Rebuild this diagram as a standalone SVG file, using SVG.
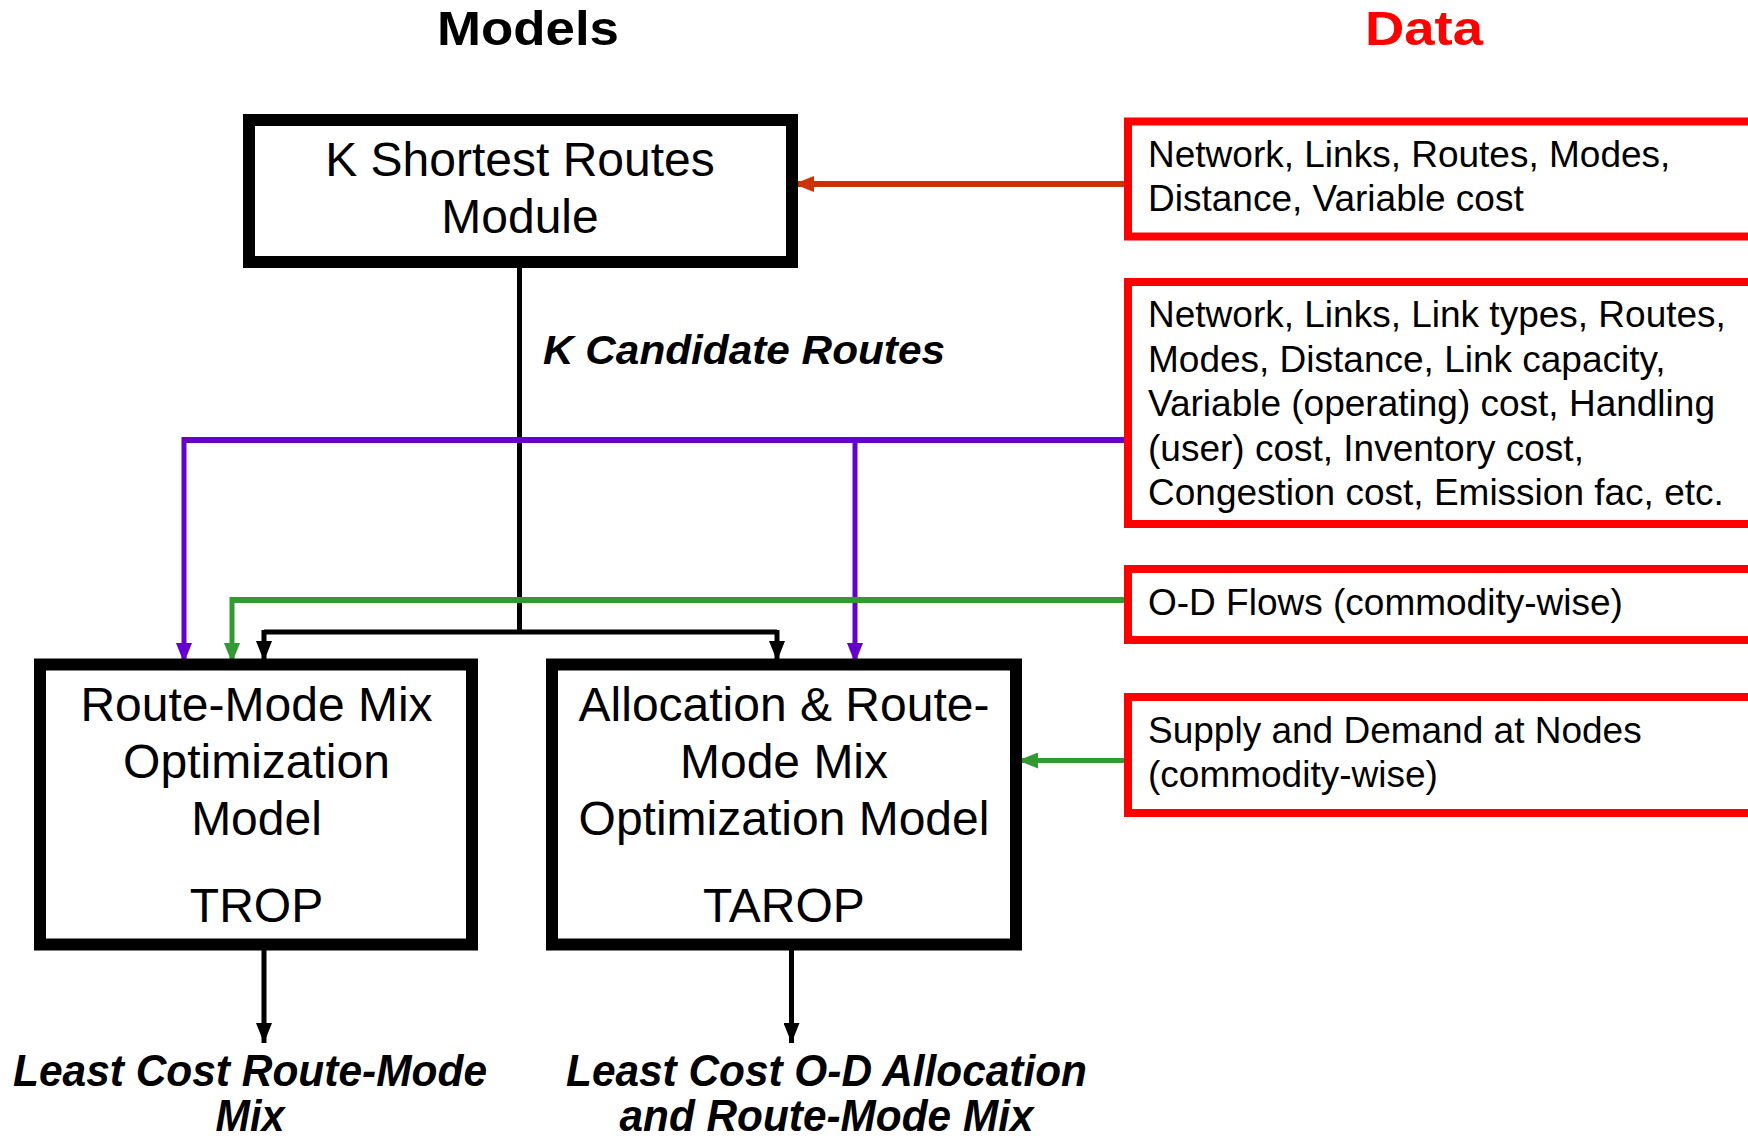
<svg xmlns="http://www.w3.org/2000/svg" width="1748" height="1142" viewBox="0 0 1748 1142">
<style>
.t{font-family:"Liberation Sans",Arial,sans-serif;fill:#000}
.model{font-size:48px;text-anchor:middle}
.data{font-size:37px}
.title{font-size:49px;font-weight:bold;text-anchor:middle}
.bi{font-size:44px;font-weight:bold;font-style:italic;text-anchor:middle}
.mbox{fill:#fff;stroke:#000;stroke-width:12}
.dbox{fill:#fff;stroke:#f00;stroke-width:8}
.blk{fill:none;stroke:#000;stroke-width:5}
.pur{fill:none;stroke:#6600cc;stroke-width:5}
.grn{fill:none;stroke:#339933;stroke-width:5}
.org{fill:none;stroke:#cc3300;stroke-width:6}
</style>
<defs>
<marker id="aBlk" markerUnits="userSpaceOnUse" markerWidth="20" markerHeight="16" refX="20" refY="8" orient="auto" viewBox="0 0 20 16"><path d="M0,0 L20,8 L0,16 Z" fill="#000"/></marker>
<marker id="aPur" markerUnits="userSpaceOnUse" markerWidth="20" markerHeight="16" refX="20" refY="8" orient="auto" viewBox="0 0 20 16"><path d="M0,0 L20,8 L0,16 Z" fill="#6600cc"/></marker>
<marker id="aGrn" markerUnits="userSpaceOnUse" markerWidth="20" markerHeight="16" refX="20" refY="8" orient="auto" viewBox="0 0 20 16"><path d="M0,0 L20,8 L0,16 Z" fill="#339933"/></marker>
<marker id="aOrg" markerUnits="userSpaceOnUse" markerWidth="20" markerHeight="16" refX="20" refY="8" orient="auto" viewBox="0 0 20 16"><path d="M0,0 L20,8 L0,16 Z" fill="#cc3300"/></marker>
</defs>
<rect width="1748" height="1142" fill="#fff"/>

<g id="titles">
<text class="t title" x="528" y="45" textLength="182" lengthAdjust="spacingAndGlyphs">Models</text>
<text class="t title" x="1424" y="45" textLength="118" lengthAdjust="spacingAndGlyphs" style="fill:#f00">Data</text>
</g>

<g id="connectors">
<path class="org" d="M1124,184 L794,184" marker-end="url(#aOrg)"/>
<path class="blk" d="M519.5,268 L519.5,632"/>
<path class="blk" d="M264,632 L777,632"/>
<path class="blk" d="M264,630 L264,661" marker-end="url(#aBlk)"/>
<path class="blk" d="M777,630 L777,661" marker-end="url(#aBlk)"/>
<path class="pur" d="M1126,440 L184,440" style="stroke-width:6"/>
<path class="pur" d="M184,437 L184,663" marker-end="url(#aPur)"/>
<path class="pur" d="M855,437 L855,663" marker-end="url(#aPur)"/>
<path class="grn" d="M1126,600 L232,600" style="stroke-width:6"/>
<path class="grn" d="M232,597 L232,663" marker-end="url(#aGrn)"/>
<path class="grn" d="M1124,760.5 L1018,760.5" marker-end="url(#aGrn)"/>
<path class="blk" d="M264,940 L264,1043" marker-end="url(#aBlk)"/>
<path class="blk" d="M791.5,940 L791.5,1043" marker-end="url(#aBlk)"/>
</g>

<g id="ksr">
<rect class="mbox" x="249" y="120" width="543" height="142"/>
<text class="t model" x="520" y="176">K Shortest Routes</text>
<text class="t model" x="520" y="233">Module</text>
</g>

<g id="cand-label">
<text class="t" x="543" y="364" style="font-size:41px;font-weight:bold;font-style:italic" textLength="402" lengthAdjust="spacingAndGlyphs">K Candidate Routes</text>
</g>

<g id="trop">
<rect class="mbox" x="40" y="664.5" width="432" height="280"/>
<text class="t model" x="256.5" y="721">Route-Mode Mix</text>
<text class="t model" x="256.5" y="778">Optimization</text>
<text class="t model" x="256.5" y="835">Model</text>
<text class="t model" x="256.5" y="922">TROP</text>
</g>

<g id="tarop">
<rect class="mbox" x="552" y="664.5" width="464" height="280"/>
<text class="t model" x="784" y="721">Allocation &amp; Route-</text>
<text class="t model" x="784" y="778">Mode Mix</text>
<text class="t model" x="784" y="835">Optimization Model</text>
<text class="t model" x="784" y="922">TAROP</text>
</g>

<g id="out-trop">
<text class="t bi" x="250" y="1086" textLength="474" lengthAdjust="spacingAndGlyphs">Least Cost Route-Mode</text>
<text class="t bi" x="250" y="1131" textLength="69" lengthAdjust="spacingAndGlyphs">Mix</text>
</g>

<g id="out-tarop">
<text class="t bi" x="826.5" y="1086" textLength="521" lengthAdjust="spacingAndGlyphs">Least Cost O-D Allocation</text>
<text class="t bi" x="826.5" y="1131" textLength="414" lengthAdjust="spacingAndGlyphs">and Route-Mode Mix</text>
</g>

<g id="data1">
<rect class="dbox" x="1128" y="121.5" width="640" height="115"/>
<text class="t data" x="1148" y="167">Network, Links, Routes, Modes,</text>
<text class="t data" x="1148" y="211">Distance, Variable cost</text>
</g>

<g id="data2">
<rect class="dbox" x="1128" y="282" width="640" height="242"/>
<text class="t data" x="1148" y="327">Network, Links, Link types, Routes,</text>
<text class="t data" x="1148" y="371.5">Modes, Distance, Link capacity,</text>
<text class="t data" x="1148" y="416">Variable (operating) cost, Handling</text>
<text class="t data" x="1148" y="460.5">(user) cost, Inventory cost,</text>
<text class="t data" x="1148" y="505">Congestion cost, Emission fac, etc.</text>
</g>

<g id="data3">
<rect class="dbox" x="1128" y="569" width="640" height="71"/>
<text class="t data" x="1148" y="615">O-D Flows (commodity-wise)</text>
</g>

<g id="data4">
<rect class="dbox" x="1128" y="697" width="640" height="116"/>
<text class="t data" x="1148" y="743">Supply and Demand at Nodes</text>
<text class="t data" x="1148" y="787">(commodity-wise)</text>
</g>
</svg>
